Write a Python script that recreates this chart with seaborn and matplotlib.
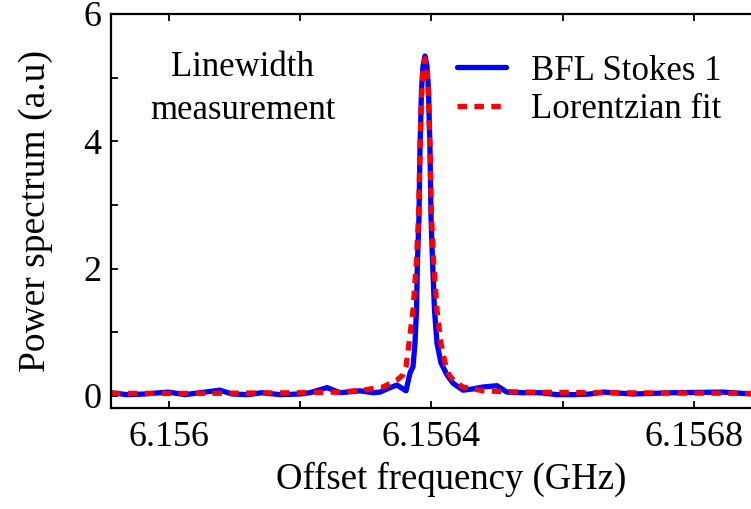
import seaborn as sns
import matplotlib.pyplot as plt

freq_blue = [6.1559116, 6.1559360, 6.1559634, 6.1559985, 6.1560244, 6.1560549,
             6.1560777, 6.1560960, 6.1561204, 6.1561418, 6.1561692, 6.1561997,
             6.1562149, 6.1562409, 6.1562607, 6.1562912, 6.1563110, 6.1563216,
             6.1563369, 6.1563476, 6.1563613, 6.1563674, 6.1563720, 6.1563750,
             6.1563773, 6.1563788, 6.1563811, 6.1563826, 6.1563849, 6.1563872,
             6.1563902, 6.1563933, 6.1563956, 6.1563979, 6.1563994, 6.1564017,
             6.1564047, 6.1564085, 6.1564146, 6.1564238, 6.1564329, 6.1564482,
             6.1564634, 6.1564787, 6.1565000, 6.1565152, 6.1565396, 6.1565656,
             6.1565915, 6.1566159, 6.1566418, 6.1566616, 6.1567073, 6.1567683,
             6.1568445, 6.1568872, 6.1569500]
power_blue = [0.05, 0.02, 0.03, 0.06, 0.02, 0.06,
              0.09, 0.03, 0.02, 0.05, 0.02, 0.03,
              0.05, 0.13, 0.05, 0.08, 0.05, 0.06,
              0.13, 0.17, 0.08, 0.36, 0.46, 0.83,
              1.35, 2.13, 2.81, 3.86, 4.80, 5.18,
              5.34, 5.18, 4.80, 3.86, 2.81, 2.13,
              1.35, 0.83, 0.52, 0.33, 0.20, 0.09,
              0.11, 0.14, 0.16, 0.06, 0.05, 0.05,
              0.02, 0.02, 0.03, 0.06, 0.03, 0.05,
              0.06, 0.03, 0.04]

# Lorentzian fit
freq_red = [6.1559116, 6.1560473, 6.1561997, 6.1562607, 6.1562957, 6.1563262,
            6.1563476, 6.1563567, 6.1563613, 6.1563659, 6.1563720, 6.1563773,
            6.1563803, 6.1563826, 6.1563849, 6.1563872, 6.1563902, 6.1563933,
            6.1563956, 6.1563979, 6.1564002, 6.1564032, 6.1564085, 6.1564146,
            6.1564207, 6.1564268, 6.1564360, 6.1564482, 6.1564787, 6.1565351,
            6.1566570, 6.1568872, 6.1569500]
power_red = [0.04, 0.04, 0.05, 0.06, 0.09, 0.14,
             0.25, 0.33, 0.46, 0.83, 1.35, 2.13,
             2.81, 3.86, 4.70, 5.15, 5.30, 5.15,
             4.70, 3.86, 2.81, 2.13, 1.35, 0.83,
             0.52, 0.33, 0.22, 0.14, 0.08, 0.06,
             0.05, 0.04, 0.04]

major_x = [6.156, 6.1564, 6.1568]
major_x_labels = ["6.156", "6.1564", "6.1568"]
minor_x = [6.1562, 6.1566]
major_y = [0, 2, 4, 6]
minor_y = [1, 3, 5]

sns.set_theme(style="ticks")
plt.rcParams["font.family"] = ["Liberation Serif", "DejaVu Serif"]
plt.rcParams["text.color"] = "black"
plt.rcParams["axes.labelcolor"] = "black"
plt.rcParams["xtick.color"] = "black"
plt.rcParams["ytick.color"] = "black"

fig = plt.figure(figsize=(7.51, 5.09), dpi=100)
# the original axes box runs past the right edge of the picture
ax = fig.add_axes([111 / 751, 101 / 509, 680 / 751, 394 / 509])

sns.lineplot(x=freq_blue, y=power_blue, ax=ax, color="#0000ff", linewidth=3.8,
             label="BFL Stokes 1", sort=False, estimator=None)
sns.lineplot(x=freq_red, y=power_red, ax=ax, color="#ff0000", linewidth=3.8,
             label="Lorentzian fit", sort=False, estimator=None)
ax.lines[1].set_dashes((1.8, 1.4))

ax.set_xlim(6.1559116, 6.1569482)
ax.set_ylim(-0.19, 6)

ax.set_xticks(major_x)
ax.set_xticklabels(major_x_labels)
ax.set_xticks(minor_x, minor=True)
ax.set_yticks(major_y)
ax.set_yticks(minor_y, minor=True)

ax.tick_params(which="both", direction="in", top=True, right=False,
               length=5, width=1.3, labelsize=26)
ax.tick_params(axis="x", pad=9)
ax.tick_params(axis="y", pad=7)

for side in ["left", "bottom", "top"]:
    ax.spines[side].set_linewidth(1.6)
    ax.spines[side].set_color("black")
ax.spines["right"].set_visible(False)

ax.set_xlabel("Offset frequency (GHz)", fontsize=26.5, labelpad=6)
ax.set_ylabel("Power spectrum (a.u)", fontsize=27, labelpad=22)

ax.text(0.194, 0.905, "Linewidth\nmeasurement", transform=ax.transAxes,
        ha="center", va="top", fontsize=25, linespacing=1.4)

ax.legend(loc="upper left", bbox_to_anchor=(0.509, 0.897), frameon=False,
          fontsize=25, handlelength=1.42, handletextpad=0.7,
          labelspacing=0.17, borderpad=0, borderaxespad=0)

fig.savefig("out.png", dpi=100)
